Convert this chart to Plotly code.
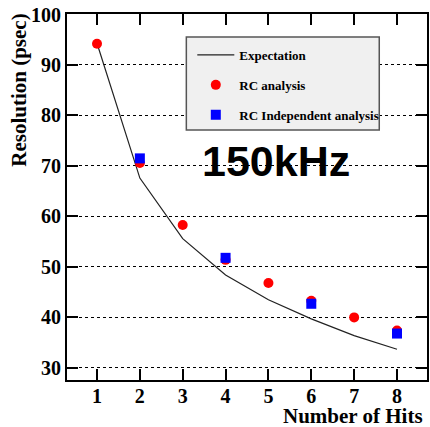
import plotly.graph_objects as go

# ---- data ----
hits = [1, 2, 3, 4, 5, 6, 7, 8]
expectation = [94.3, 67.6, 55.6, 48.4, 43.5, 39.7, 36.4, 33.7]
rc_analysis = [94.2, 70.6, 58.3, 51.4, 46.8, 43.3, 40.0, 37.4]
rc_indep_hits = [2, 4, 6, 8]
rc_indep = [71.5, 51.8, 42.7, 36.8]
x_ticks = [1, 2, 3, 4, 5, 6, 7, 8]
y_ticks = [30, 40, 50, 60, 70, 80, 90, 100]

W, H = 430, 427
L, R, T, B = 67, 1, 14, 47
pw, ph = W - L - R, H - T - B

def px(x):
    return (x - L) / pw

def py(y):
    return (H - B - y) / ph

serif = "Liberation Serif"

fig = go.Figure()
fig.add_trace(go.Scatter(x=hits, y=expectation, mode="lines", name="Expectation",
                         line=dict(color="#222222", width=1.2), legendgroup="a"))
fig.add_trace(go.Scatter(x=hits, y=rc_analysis, mode="markers", name="RC analysis",
                         marker=dict(color="#ff0000", size=10, symbol="circle"), legendgroup="b"))
fig.add_trace(go.Scatter(x=rc_indep_hits, y=rc_indep, mode="markers", name="RC Independent analysis",
                         marker=dict(color="#0000ff", size=10, symbol="square"), legendgroup="c"))

axis_common = dict(
    showline=True, linecolor="black", linewidth=2, mirror="ticks",
    ticks="inside", ticklen=11, tickwidth=1.5, tickcolor="black",
    tickfont=dict(family=serif, size=20, color="black", weight="bold"),
    zeroline=False,
)

fig.update_xaxes(range=[0.3, 8.7], tickvals=x_ticks, showgrid=False,
                 ticklabelstandoff=-3, **axis_common)
fig.update_yaxes(range=[27.6, 100.1], tickvals=y_ticks, showgrid=True,
                 gridcolor="black", gridwidth=1, griddash="dot", **axis_common)

# legend box
fig.add_shape(type="rect", xref="paper", yref="paper",
              x0=px(187), x1=px(381), y0=py(130), y1=py(37),
              fillcolor="#f0f0f0", line=dict(color="#555555", width=1.5), layer="above")

fig.update_layout(
    width=W, height=H,
    margin=dict(l=L, r=R, t=T, b=B),
    plot_bgcolor="white", paper_bgcolor="white",
    showlegend=True,
    legend=dict(x=px(193), y=py(40), xanchor="left", yanchor="top",
                bgcolor="rgba(0,0,0,0)", borderwidth=0,
                font=dict(family=serif, size=13, color="black", weight="bold"),
                tracegroupgap=10, itemwidth=37),
    annotations=[
        dict(text="Resolution (psec)", textangle=-90, xref="paper", yref="paper",
             x=px(18), y=py(12), xanchor="center", yanchor="top", showarrow=False,
             font=dict(family=serif, size=21, color="black", weight="bold")),
        dict(text="Number of Hits", xref="paper", yref="paper",
             x=px(427), y=py(416), xanchor="right", yanchor="middle", showarrow=False,
             font=dict(family=serif, size=21, color="black", weight="bold")),
        dict(text="150kHz", xref="paper", yref="paper",
             x=px(277), y=py(161), xanchor="center", yanchor="middle", showarrow=False,
             font=dict(family="Liberation Sans", size=43, color="black", weight="bold")),
    ],
)

fig.write_html("out.html", config={"displayModeBar": False},
               post_script="document.body.style.margin='0px';document.body.style.overflow='hidden';")
